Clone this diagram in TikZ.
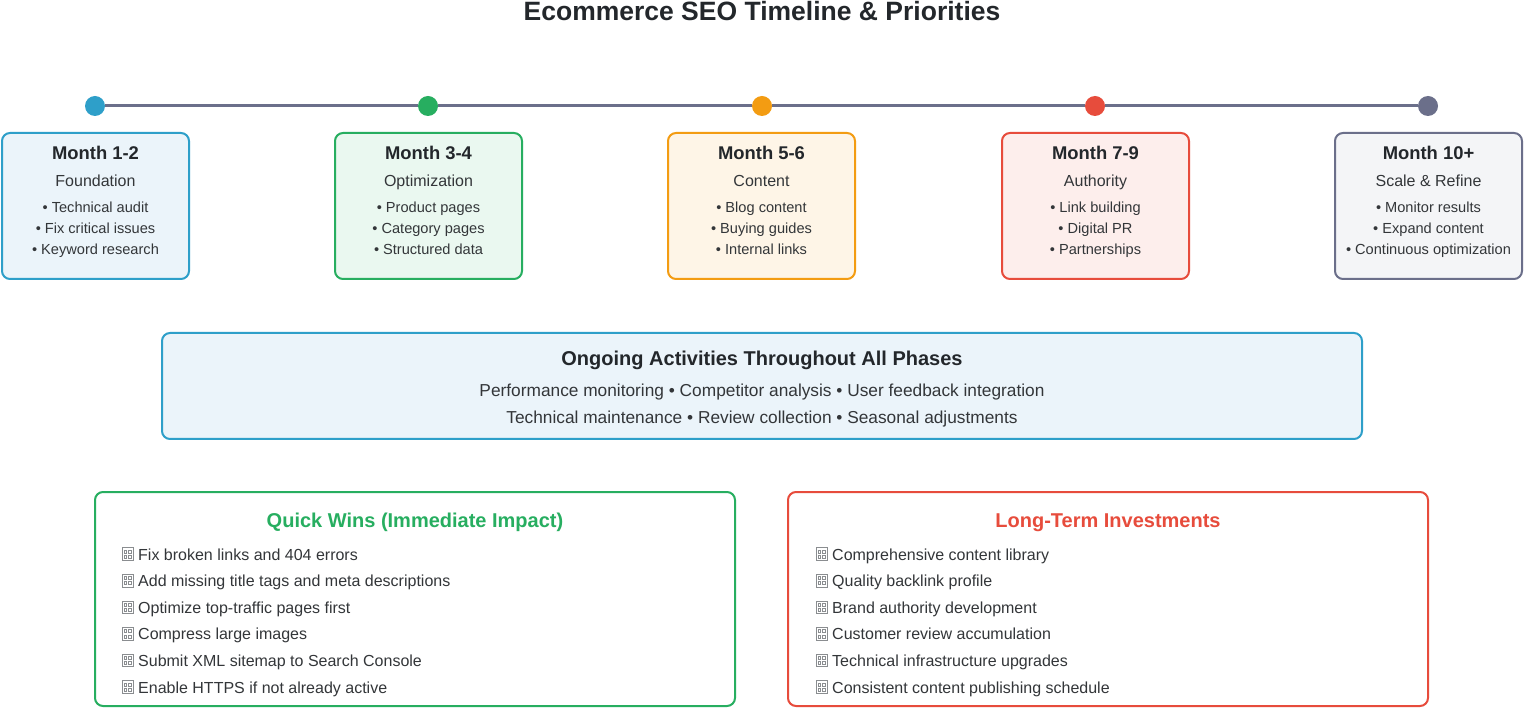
\documentclass[tikz,border=0pt]{standalone}
\usepackage{fontspec}
\setmainfont{Liberation Sans}
\definecolor{cblue}{HTML}{2E9FC9}
\definecolor{cgreen}{HTML}{27AE60}
\definecolor{corange}{HTML}{F39C12}
\definecolor{cred}{HTML}{E74C3C}
\definecolor{cgray}{HTML}{6B6F8A}
\definecolor{fblue}{HTML}{EBF4FA}
\definecolor{fgreen}{HTML}{EAF8F0}
\definecolor{forange}{HTML}{FEF5E7}
\definecolor{fred}{HTML}{FDEEEC}
\definecolor{fgray}{HTML}{F4F5F7}
\definecolor{ink}{HTML}{23272B}
\definecolor{ink2}{HTML}{333639}
\definecolor{tofuc}{HTML}{8A8D90}
\tikzset{
  dot/.style={circle, minimum size=20pt, inner sep=0pt},
  tl/.style={draw=cgray, line width=3pt},
  phasebox/.style={rectangle, rounded corners=8pt, line width=2pt, minimum width=187pt, minimum height=146pt, inner sep=0pt},
  bigbox/.style={rectangle, rounded corners=8pt, line width=2pt, inner sep=0pt},
  ttl/.style={anchor=base, font=\fontsize{26.5}{30}\selectfont\bfseries, text=ink, inner sep=0pt},
  mon/.style={anchor=base, font=\fontsize{18.4}{22}\selectfont\bfseries, text=ink, inner sep=0pt},
  sub/.style={anchor=base, font=\fontsize{16}{19}\selectfont, text=ink2, inner sep=0pt},
  bul/.style={anchor=base, font=\fontsize{14.6}{17}\selectfont, text=ink2, inner sep=0pt},
  ogt/.style={anchor=base, font=\fontsize{20}{24}\selectfont\bfseries, text=ink, inner sep=0pt},
  ogl/.style={anchor=base, font=\fontsize{17.3}{20}\selectfont, text=ink2, inner sep=0pt},
  bxt/.style={anchor=base, font=\fontsize{20}{24}\selectfont\bfseries, inner sep=0pt},
  itm/.style={anchor=base west, font=\fontsize{16}{19}\selectfont, text=ink2, inner sep=0pt},
  tofu/.style={rectangle, draw=tofuc, line width=0.7pt, minimum width=11pt, minimum height=12.5pt, inner sep=0pt,
    path picture={\draw[tofuc, line width=0.6pt]
      ([xshift=2pt,yshift=-2.2pt]path picture bounding box.north west) rectangle ++(2.6pt,-3pt)
      ([xshift=6.2pt,yshift=-2.2pt]path picture bounding box.north west) rectangle ++(2.6pt,-3pt)
      ([xshift=2pt,yshift=2.2pt]path picture bounding box.south west) rectangle ++(2.6pt,3pt)
      ([xshift=6.2pt,yshift=2.2pt]path picture bounding box.south west) rectangle ++(2.6pt,3pt);}},
}
\begin{document}
\begin{tikzpicture}[x=1pt,y=-1pt]
\useasboundingbox[fill=white] (0,0) rectangle (1524,708);

\node[ttl] (title) at (762,21) {Ecommerce SEO Timeline \& Priorities};

% timeline
\node[dot, fill=cblue] (d1) at (95,106) {};
\node[dot, fill=cgreen] (d2) at (428,106) {};
\node[dot, fill=corange] (d3) at (762,106) {};
\node[dot, fill=cred] (d4) at (1095,106) {};
\node[dot, fill=cgray] (d5) at (1428,106) {};
\draw[tl] (d1) -- (d2);
\draw[tl] (d2) -- (d3);
\draw[tl] (d3) -- (d4);
\draw[tl] (d4) -- (d5);

% phase boxes
\node[phasebox, draw=cblue, fill=fblue] (p1) at (95.5,206) {};
\node[phasebox, draw=cgreen, fill=fgreen] (p2) at (428.5,206) {};
\node[phasebox, draw=corange, fill=forange] (p3) at (761.5,206) {};
\node[phasebox, draw=cred, fill=fred] (p4) at (1095.5,206) {};
\node[phasebox, draw=cgray, fill=fgray] (p5) at (1428.5,206) {};

\node[mon] (m1) at (95.5,159.5) {Month 1-2};
\node[sub] (s1) at (95.5,186.5) {Foundation};
\node[bul] (b11) at (95.5,213) {• Technical audit};
\node[bul] (b12) at (95.5,234) {• Fix critical issues};
\node[bul] (b13) at (95.5,255) {• Keyword research};

\node[mon] (m2) at (428.5,159.5) {Month 3-4};
\node[sub] (s2) at (428.5,186.5) {Optimization};
\node[bul] (b21) at (428.5,213) {• Product pages};
\node[bul] (b22) at (428.5,234) {• Category pages};
\node[bul] (b23) at (428.5,255) {• Structured data};

\node[mon] (m3) at (761.5,159.5) {Month 5-6};
\node[sub] (s3) at (761.5,186.5) {Content};
\node[bul] (b31) at (761.5,213) {• Blog content};
\node[bul] (b32) at (761.5,234) {• Buying guides};
\node[bul] (b33) at (761.5,255) {• Internal links};

\node[mon] (m4) at (1095.5,159.5) {Month 7-9};
\node[sub] (s4) at (1095.5,186.5) {Authority};
\node[bul] (b41) at (1095.5,213) {• Link building};
\node[bul] (b42) at (1095.5,234) {• Digital PR};
\node[bul] (b43) at (1095.5,255) {• Partnerships};

\node[mon] (m5) at (1428.5,159.5) {Month 10+};
\node[sub] (s5) at (1428.5,186.5) {Scale \& Refine};
\node[bul] (b51) at (1428.5,213) {• Monitor results};
\node[bul] (b52) at (1428.5,234) {• Expand content};
\node[bul] (b53) at (1428.5,255) {• Continuous optimization};

% ongoing
\node[bigbox, draw=cblue, fill=fblue, minimum width=1200pt, minimum height=106pt] (og) at (762,386) {};
\node[ogt] (ogt) at (762,366) {Ongoing Activities Throughout All Phases};
\node[ogl] (ogl1) at (762,397) {Performance monitoring • Competitor analysis • User feedback integration};
\node[ogl] (ogl2) at (762,424) {Technical maintenance • Review collection • Seasonal adjustments};

% quick wins
\node[bigbox, draw=cgreen, fill=white, minimum width=640pt, minimum height=214pt] (qw) at (415,599) {};
\node[bxt, text=cgreen] (qwt) at (415,527) {Quick Wins (Immediate Impact)};
\foreach \t [count=\i] in {Fix broken links and 404 errors, Add missing title tags and meta descriptions, Optimize top-traffic pages first, Compress large images, Submit XML sitemap to Search Console, Enable HTTPS if not already active}{
  \pgfmathsetmacro{\yy}{554+26.6*(\i-1)}
  \node[tofu] (qi\i) at (127.5,\yy) {};
  \node[itm] (qt\i) at (138,\yy+6) {\t};
}

% long term
\node[bigbox, draw=cred, fill=white, minimum width=640pt, minimum height=214pt] (lt) at (1108,599) {};
\node[bxt, text=cred] (ltt) at (1108,527) {Long-Term Investments};
\foreach \t [count=\i] in {Comprehensive content library, Quality backlink profile, Brand authority development, Customer review accumulation, Technical infrastructure upgrades, Consistent content publishing schedule}{
  \pgfmathsetmacro{\yy}{554+26.6*(\i-1)}
  \node[tofu] (li\i) at (821.5,\yy) {};
  \node[itm] (lt\i) at (832,\yy+6) {\t};
}
\end{tikzpicture}
\end{document}
